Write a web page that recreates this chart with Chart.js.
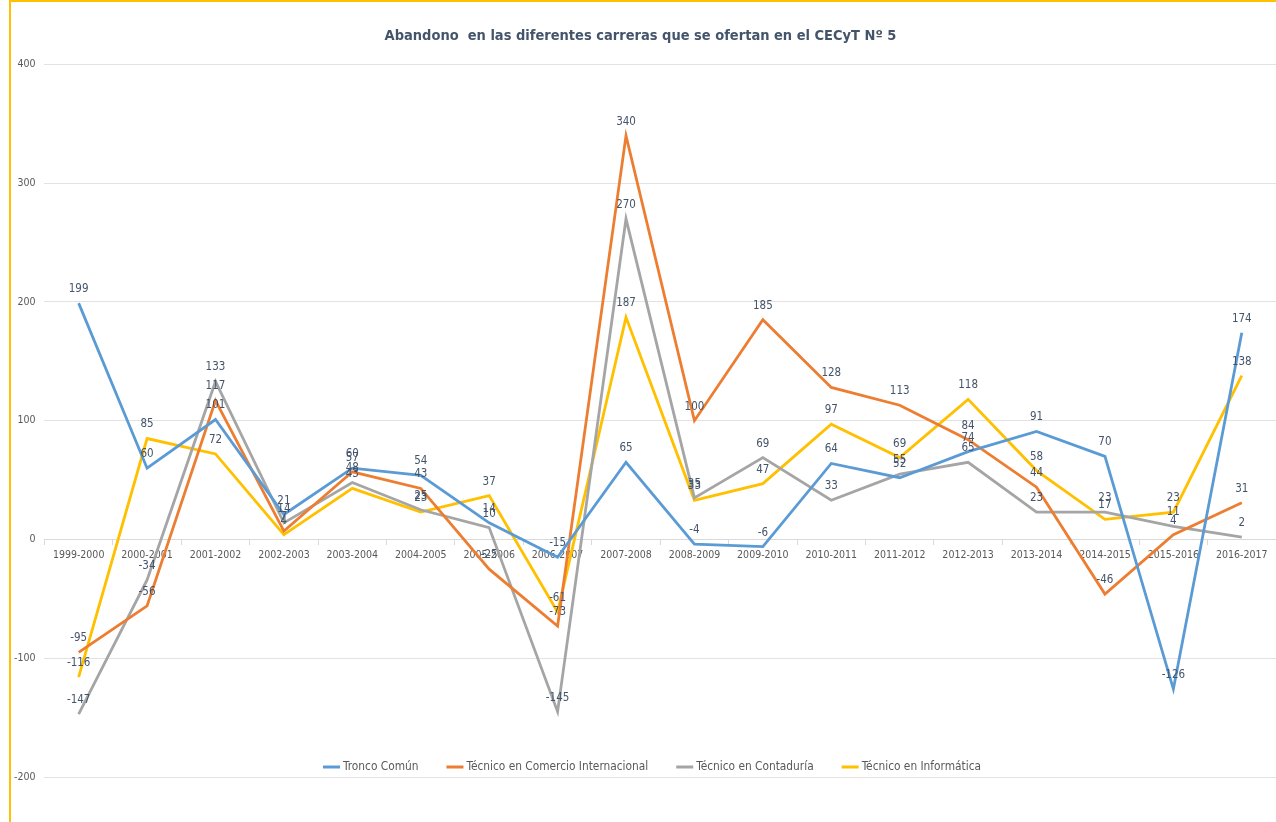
<!DOCTYPE html>
<html>
<head>
<meta charset="utf-8">
<script src="https://cdn.jsdelivr.net/npm/chart.js@4.4.1/dist/chart.umd.min.js"></script>
<style>
    html, body { margin: 0; padding: 0; background: #fff; }
    #wrap { position: relative; width: 1276px; height: 822px; overflow: hidden; }
    #frame {
        position: absolute; left: 9px; top: 0; width: 1300px; height: 900px;
        border-left: 2px solid #FFC000; border-top: 2px solid #FFC000;
        pointer-events: none;
    }
    canvas { display: block; }
</style>
</head>
<body>
<div id="wrap">
    <canvas id="abandonoChart" width="1276" height="822"></canvas>
    <div id="frame"></div>
</div>
<script>
// ===================================
// DATA
// ===================================

const years = [
    '1999-2000', '2000-2001', '2001-2002', '2002-2003', '2003-2004', '2004-2005',
    '2005-2006', '2006-2007', '2007-2008', '2008-2009', '2009-2010', '2010-2011',
    '2011-2012', '2012-2013', '2013-2014', '2014-2015', '2015-2016', '2016-2017'
];
const troncoComun = [199, 60, 101, 21, 60, 54, 14, -15, 65, -4, -6, 64, 52, 74, 91, 70, -126, 174];
const comercioInternacional = [-95, -56, 117, 7, 57, 43, -25, -73, 340, 100, 185, 128, 113, 84, 44, -46, 4, 31];
const contaduria = [-147, -34, 133, 14, 48, 25, 10, -145, 270, 35, 69, 33, 55, 65, 23, 23, 11, 2];
const informatica = [-116, 85, 72, 4, 43, 23, 37, -61, 187, 33, 47, 97, 69, 118, 58, 17, 23, 138];

const seriesNames = ['Tronco Común', 'Técnico en Comercio Internacional', 'Técnico en Contaduría', 'Técnico en Informática'];
const yTicks = [-200, -100, 0, 100, 200, 300, 400];

const FONT = '"DejaVu Sans Condensed", "Liberation Sans Narrow", Roboto, sans-serif';
const COLORS = ['#5B9BD5', '#ED7D31', '#A5A5A5', '#FFC000'];

// Value labels above each point
const valueLabels = {
    id: 'valueLabels',
    afterDatasetsDraw(chart) {
        const ctx = chart.ctx;
        ctx.save();
        ctx.font = '11.5px ' + FONT;
        ctx.fillStyle = '#44546A';
        ctx.textAlign = 'center';
        ctx.textBaseline = 'middle';
        chart.data.datasets.forEach((ds, i) => {
            chart.getDatasetMeta(i).data.forEach((pt, j) => {
                ctx.fillText(ds.data[j], pt.x, pt.y - 14);
            });
        });
        ctx.restore();
    }
};

// Legend drawn inside the plot, just above the -200 line
const insideLegend = {
    id: 'insideLegend',
    afterDraw(chart) {
        const ctx = chart.ctx;
        const y = chart.scales.y.getPixelForValue(-200) - 10;
        const lineW = 17, gapText = 3, gapItem = 28;
        ctx.save();
        ctx.font = '11.8px ' + FONT;
        ctx.textBaseline = 'middle';
        const widths = chart.data.datasets.map(ds => lineW + gapText + ctx.measureText(ds.label).width);
        const total = widths.reduce((a, b) => a + b, 0) + gapItem * (widths.length - 1);
        let x = 652 - total / 2;
        chart.data.datasets.forEach((ds, i) => {
            ctx.strokeStyle = ds.borderColor;
            ctx.lineWidth = 3;
            ctx.beginPath();
            ctx.moveTo(x, y);
            ctx.lineTo(x + lineW, y);
            ctx.stroke();
            ctx.fillStyle = '#595959';
            ctx.fillText(ds.label, x + lineW + gapText, y);
            x += widths[i] + gapItem;
        });
        ctx.restore();
    }
};

const seriesData = [troncoComun, comercioInternacional, contaduria, informatica];

new Chart(document.getElementById('abandonoChart'), {
    type: 'line',
    data: {
        labels: years,
        datasets: seriesData.map((d, i) => ({
            label: seriesNames[i],
            data: d,
            borderColor: COLORS[i],
            backgroundColor: COLORS[i],
            borderWidth: 2.8,
            pointRadius: 0,
            tension: 0,
            fill: false
        }))
    },
    options: {
        responsive: false,
        animation: false,
        layout: {
            padding: { left: 5, right: 0, top: 0, bottom: 45 }
        },
        plugins: {
            legend: { display: false },
            tooltip: { enabled: false },
            title: {
                display: true,
                text: 'Abandono  en las diferentes carreras que se ofertan en el CECyT Nº 5',
                color: '#44546A',
                font: { family: FONT, size: 14.5, weight: 'bold' },
                padding: { top: 28, bottom: 19 }
            }
        },
        scales: {
            x: {
                position: { y: 0 },
                offset: true,
                grid: {
                    display: true,
                    drawOnChartArea: false,
                    drawTicks: true,
                    tickLength: 5,
                    offset: true,
                    color: '#D9D9D9'
                },
                border: { display: true, color: '#D9D9D9' },
                ticks: {
                    color: '#595959',
                    font: { family: FONT, size: 10.5 },
                    maxRotation: 0,
                    autoSkip: false,
                    padding: 4
                }
            },
            y: {
                min: yTicks[0],
                max: yTicks[yTicks.length - 1],
                afterBuildTicks(axis) {
                    axis.ticks = yTicks.map(v => ({ value: v }));
                },
                grid: { color: '#E3E3E3', drawTicks: false },
                border: { display: false },
                ticks: {
                    color: '#595959',
                    font: { family: FONT, size: 10.5 },
                    padding: 9
                }
            }
        }
    },
    plugins: [valueLabels, insideLegend]
});
</script>
</body>
</html>
